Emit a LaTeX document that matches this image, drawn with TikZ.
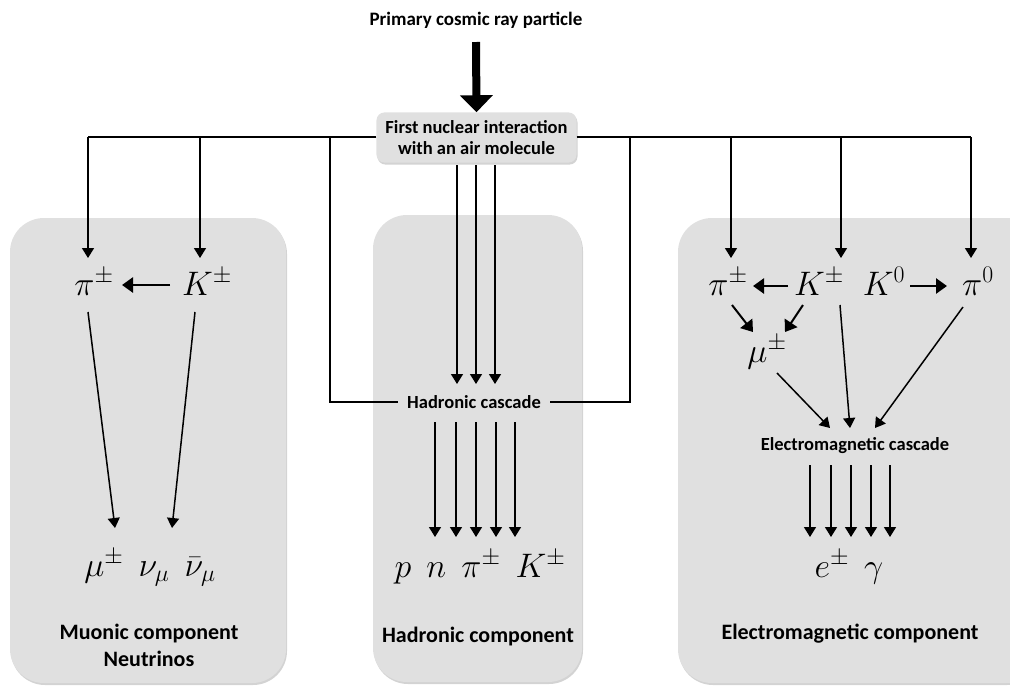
\RequirePackage{fix-cm}
\documentclass[tikz,border=0pt]{standalone}
\usepackage{fontspec}
\newfontfamily\lab{Carlito}
\usetikzlibrary{arrows.meta,shadows}
\definecolor{boxgray}{HTML}{E0E0E0}
\newcommand{\gp}{\mkern8mu}
\tikzset{
  panel/.style={fill=boxgray, rounded corners=34pt, drop shadow={shadow xshift=1pt, shadow yshift=-2pt, opacity=0.35}},
  fnibox/.style={fill=boxgray, rounded corners=8pt, inner xsep=9pt, inner ysep=8pt, align=center, font=\lab\bfseries\fontsize{18.5}{21}\selectfont, drop shadow={shadow xshift=1pt, shadow yshift=-2pt, opacity=0.35}},
  small/.style={font=\lab\bfseries\fontsize{18.5}{21}\selectfont, inner sep=0pt},
  comp/.style={font=\lab\bfseries\fontsize{22}{26}\selectfont, align=center, inner sep=0pt},
  mth/.style={font=\fontsize{34}{38}\selectfont, inner sep=0pt, anchor=base},
  conn/.style={line width=1.5pt},
  arr/.style={line width=1.5pt, -{Triangle[width=12pt,length=10pt]}},
  tarr/.style={line width=2.6pt, -{Triangle[width=15pt,length=11pt]}},
}
\begin{document}
\begin{tikzpicture}[x=1pt,y=-1pt]
\useasboundingbox (0,0) rectangle (1010,689);
% panels
\path[panel] (10,218) rectangle (286,683);
\path[panel] (373,215) rectangle (582,682);
\path[panel] (678,218) rectangle (1040,683);
% top
\node[small, font=\lab\bfseries\fontsize{19}{22}\selectfont] (prim) at (476,20) {Primary cosmic ray particle};
\node[fnibox] (fni) at (476.5,137.5) {First nuclear interaction\\with an air molecule};
\draw[line width=8pt, -{Triangle[width=32pt,length=17pt]}] (prim.south |- 0,42) -- (fni.north);
% bus
\coordinate (b1) at (88,137);
\coordinate (b2) at (200,137);
\coordinate (b3) at (330,137);
\coordinate (b4) at (630,137);
\coordinate (b5) at (731,137);
\coordinate (b6) at (841,137);
\coordinate (b7) at (971,137);
\draw[conn] (fni.west |- b1) -- (b1);
\draw[conn] (fni.east |- b7) -- (b7);
% left panel
\node[mth] (piL) at (94,295) {$\pi^{\pm}$};
\node[mth] (KL) at (207,295) {$K^{\pm}$};
\node[mth] (muL) at (150,576) {$\mu^{\pm}\gp\nu_\mu\gp\bar\nu_\mu$};
\coordinate (muLa) at (115,528);
\coordinate (muLb) at (172,528);
\draw[arr] (b1) -- (b1 |- 0,258);
\draw[arr] (b2) -- (b2 |- 0,258);
\draw[tarr] (170,285) -- (122,285);
\draw[arr] (88,312) -- (muLa);
\draw[arr] (195,312) -- (muLb);
\node[comp] (compL) at (149,645) {Muonic component\\[1pt]Neutrinos};
% middle panel
\node[small, inner xsep=9pt] (hc) at (474,402) {Hadronic cascade};
\draw[conn] (b3) -- (b3 |- hc) -- (hc.west);
\draw[conn] (b4) -- (b4 |- hc) -- (hc.east);
\foreach \x in {457,476,495} \draw[arr] (\x,165) -- (\x,384);
\foreach \x in {435,456,476,496,515} \draw[arr] (\x,422) -- (\x,537);
\node[mth] (had) at (480,577) {$p\gp n\gp\pi^{\pm}\gp K^{\pm}$};
\node[comp] (compM) at (478,637) {Hadronic component};
% right panel
\node[mth] (piR) at (728,295) {$\pi^{\pm}$};
\node[mth] (KR) at (819,295) {$K^{\pm}$};
\node[mth] (K0) at (884,295) {$K^{0}$};
\node[mth] (pi0) at (978,295) {$\pi^{0}$};
\node[mth] (muR) at (767,362) {$\mu^{\pm}$};
\node[small] (emc) at (855,446) {Electromagnetic cascade};
\node[mth] (eg) at (849,577) {$e^{\pm}\gp\gamma$};
\node[comp] (compR) at (850,634) {Electromagnetic component};
\draw[arr] (b5) -- (b5 |- 0,258);
\draw[arr] (b6) -- (b6 |- 0,258);
\draw[arr] (b7) -- (b7 |- 0,258);
\draw[tarr] (788,286) -- (753,286);
\draw[tarr] (910,286) -- (947,286);
\draw[tarr, line width=2pt] (732,305) -- (753,332);
\draw[tarr, line width=2pt] (803,305) -- (785,332);
\draw[arr] (777,373) -- (830,428);
\draw[arr] (840,305) -- (850,428);
\draw[arr] (963,307) -- (875,428);
\foreach \x in {810,831,851,871,890} \draw[arr] (\x,465) -- (\x,537);
\end{tikzpicture}
\end{document}
